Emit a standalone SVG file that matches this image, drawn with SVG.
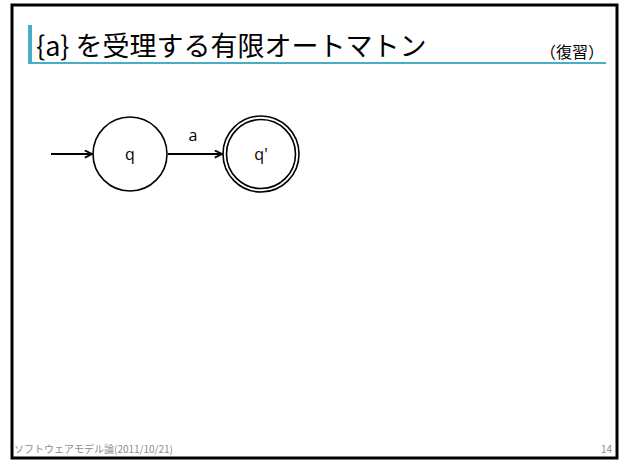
<svg xmlns="http://www.w3.org/2000/svg" width="624" height="461" viewBox="0 0 624 461">
<style>
.ttl{font-family:"Noto Sans CJK JP","Noto Sans",sans-serif;fill:#000}
.lbl{font-family:"Open Sans","DejaVu Sans",sans-serif;font-size:16px;fill:#000;text-anchor:middle}
.ft{font-family:"Noto Sans CJK JP","Noto Sans",sans-serif;font-size:10px;fill:#8c8c8c}
.st{fill:#fff;stroke:#000;stroke-width:1.6}
.edge{stroke:#000;stroke-width:1.8;fill:none;marker-end:url(#ah)}
</style>
<defs>
<marker id="ah" viewBox="0 0 10 10" refX="9" refY="5" markerWidth="5" markerHeight="5" orient="auto" markerUnits="strokeWidth">
<path d="M1,1 L9,5 L1,9" fill="none" stroke="#000" stroke-width="2"/>
</marker>
</defs>
<rect x="0" y="0" width="624" height="461" fill="#fff"/>
<rect x="12" y="5" width="605" height="453" fill="#fff" stroke="#000" stroke-width="3"/>
<g id="title">
<rect x="28" y="25" width="4" height="38" fill="#4bacc6"/>
<rect x="28" y="62" width="578" height="2" fill="#4bacc6"/>
<text class="ttl" x="36" y="56" font-size="27">{a} を受理する有限オートマトン</text>
<text class="ttl" x="604" y="58" font-size="16" text-anchor="end">（復習）</text>
</g>
<g id="connectors">
<line class="edge" x1="51" y1="154" x2="92" y2="154"/>
<line class="edge" x1="168" y1="154" x2="222" y2="154"/>
<text class="lbl" x="193" y="141">a</text>
</g>
<g id="node-q">
<circle class="st" cx="130" cy="154" r="37"/>
<text class="lbl" x="130" y="160">q</text>
</g>
<g id="node-q2">
<circle class="st" cx="261" cy="154" r="38"/>
<circle class="st" cx="261" cy="154" r="34.5"/>
<text class="lbl" x="261" y="160">q'</text>
</g>
<g id="footer">
<text class="ft" x="14" y="453">ソフトウェアモデル論(2011/10/21)</text>
<text class="ft" x="612" y="453" text-anchor="end">14</text>
</g>
</svg>
